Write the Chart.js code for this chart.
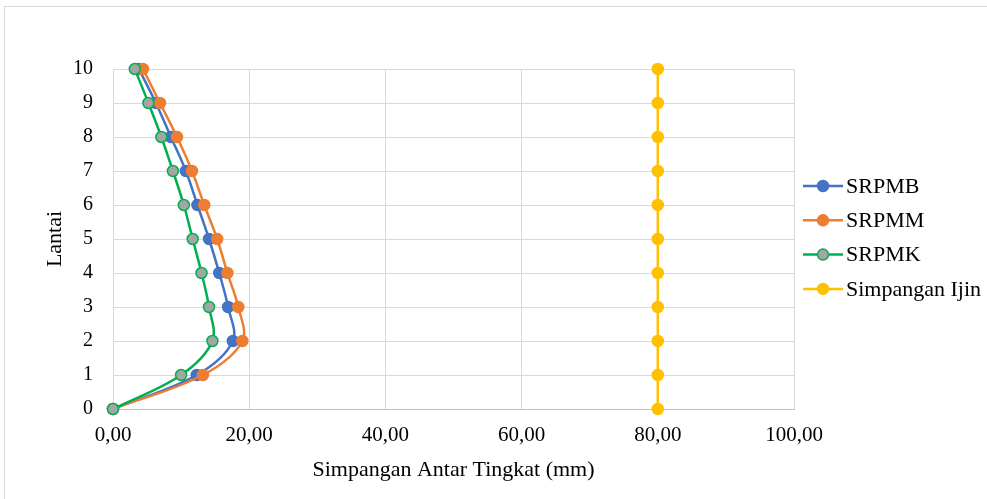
<!DOCTYPE html>
<html lang="id">
<head>
    <meta charset="UTF-8">
    <title>Simpangan Antar Tingkat</title>
    <style>
        * {
            margin: 0;
            padding: 0;
            box-sizing: border-box;
        }

        body {
            width: 987px;
            height: 499px;
            overflow: hidden;
            background: #fff;
            position: relative;
        }

        .frame {
            position: absolute;
            left: 4px;
            top: 6px;
            width: 1100px;
            height: 600px;
            border: 1px solid #d9d9d9;
        }

        #driftChart {
            position: absolute;
            left: 0;
            top: 0;
        }
    </style>
</head>
<body>
    <div class="frame"></div>
    <canvas id="driftChart" width="987" height="499"></canvas>

    <script src="https://cdn.jsdelivr.net/npm/chart.js"></script>
    <script>
        // data (mm per floor)
        var lantai = [0, 1, 2, 3, 4, 5, 6, 7, 8, 9, 10];
        var srpmb = [0, 12.3, 17.6, 16.9, 15.6, 14.1, 12.4, 10.7, 8.5, 6.3, 3.8];
        var srpmm = [0, 13.2, 19.0, 18.4, 16.8, 15.3, 13.4, 11.6, 9.4, 6.9, 4.4];
        var srpmk = [0, 10.0, 14.6, 14.1, 13.0, 11.7, 10.4, 8.8, 7.1, 5.2, 3.2];
        var ijin = [80, 80, 80, 80, 80, 80, 80, 80, 80, 80, 80];
        var xTicks = [0, 20, 40, 60, 80, 100];

        var serif = "'Liberation Serif', 'Times New Roman', serif";

        function toPoints(xs) {
            return xs.map(function (v, i) { return { x: v, y: lantai[i] }; });
        }

        function series(label, values, line, fill, order) {
            return {
                label: label,
                data: toPoints(values),
                showLine: true,
                clip: false,
                borderColor: line,
                backgroundColor: fill,
                pointBackgroundColor: fill,
                pointBorderColor: line,
                pointBorderWidth: 1.5,
                pointRadius: 5.5,
                borderWidth: 2.5,
                tension: 0.35,
                order: order
            };
        }

        // legend on the right: line with marker, then text
        var sideLegend = {
            id: 'sideLegend',
            afterDraw: function (chart) {
                var ctx = chart.ctx;
                var y0 = 186, step = 34.3;
                ctx.save();
                ctx.font = '22px ' + serif;
                ctx.textBaseline = 'middle';
                chart.data.datasets.forEach(function (ds, i) {
                    var y = y0 + i * step;
                    ctx.strokeStyle = ds.borderColor;
                    ctx.lineWidth = 2.5;
                    ctx.beginPath();
                    ctx.moveTo(803, y);
                    ctx.lineTo(843, y);
                    ctx.stroke();
                    ctx.beginPath();
                    ctx.arc(823, y, 5.5, 0, Math.PI * 2);
                    ctx.fillStyle = ds.pointBackgroundColor;
                    ctx.fill();
                    ctx.lineWidth = 1.5;
                    ctx.strokeStyle = ds.pointBorderColor;
                    ctx.stroke();
                    ctx.fillStyle = '#000';
                    ctx.fillText(ds.label, 846, y + 1);
                });
                ctx.restore();
            }
        };

        var ctx = document.getElementById('driftChart').getContext('2d');
        var driftChart = new Chart(ctx, {
            type: 'scatter',
            data: {
                datasets: [
                    series('SRPMB', srpmb, '#4472C4', '#4472C4', 2),
                    series('SRPMM', srpmm, '#ED7D31', '#ED7D31', 1),
                    series('SRPMK', srpmk, '#00B050', '#A5A5A5', 0),
                    series('Simpangan Ijin', ijin, '#FFC000', '#FFC000', 3)
                ]
            },
            options: {
                responsive: false,
                animation: false,
                layout: {
                    padding: { left: 0, right: 193, top: 69, bottom: 0 }
                },
                plugins: {
                    legend: { display: false },
                    tooltip: { enabled: false }
                },
                scales: {
                    x: {
                        type: 'linear',
                        min: 0,
                        max: 100,
                        afterBuildTicks: function (scale) {
                            scale.ticks = xTicks.map(function (v) { return { value: v }; });
                        },
                        afterFit: function (scale) { scale.height = 90; },
                        grid: { color: '#d9d9d9', drawTicks: false },
                        border: { color: '#bfbfbf' },
                        ticks: {
                            padding: 14,
                            color: '#000',
                            font: { family: serif, size: 21 },
                            callback: function (v) { return v.toFixed(2).replace('.', ','); }
                        },
                        title: {
                            display: true,
                            text: 'Simpangan Antar Tingkat (mm)',
                            color: '#000',
                            font: { family: serif, size: 22 },
                            padding: { top: 0, bottom: 16 }
                        }
                    },
                    y: {
                        type: 'linear',
                        min: 0,
                        max: 10,
                        afterFit: function (scale) { scale.width = 113; },
                        grid: { color: '#d9d9d9', drawTicks: false },
                        border: { color: '#d9d9d9' },
                        ticks: {
                            stepSize: 1,
                            padding: 20,
                            color: '#000',
                            font: { family: serif, size: 20 }
                        },
                        title: {
                            display: true,
                            text: 'Lantai',
                            color: '#000',
                            font: { family: serif, size: 22 },
                            padding: { top: 42, bottom: 0 }
                        }
                    }
                }
            },
            plugins: [sideLegend]
        });
    </script>
</body>
</html>
